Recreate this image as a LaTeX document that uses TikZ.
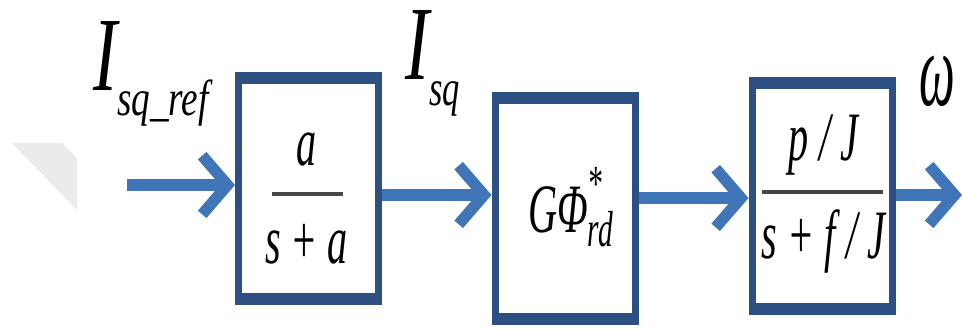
\documentclass[tikz,border=0pt]{standalone}
\usepackage{fontspec}
\setmainfont{Liberation Serif}
\usepackage{graphicx}
\usetikzlibrary{arrows.meta,positioning,calc}
\definecolor{boxblue}{RGB}{44,80,130}
\definecolor{arrblue}{RGB}{64,118,184}
\newcommand{\cond}[2][0.58]{\scalebox{#1}[1]{#2}}
\newcommand{\subsz}{\fontsize{38}{38}\selectfont}

\begin{document}
\begin{tikzpicture}[
    x=0.75pt, y=-0.75pt,
    blk/.style={draw=boxblue, fill=white, line width=5.25pt,
                minimum width=105pt, minimum height=169.5pt, inner sep=0pt},
    arr/.style={draw=arrblue, line width=8.5pt,
                -{Straight Barb[length=19pt,width=44pt]}},
    sig/.style={font=\fontsize{79}{79}\selectfont\itshape,
                inner sep=0pt, anchor=base west},
    tf/.style={font=\fontsize{52}{52}\selectfont\itshape,
               inner sep=0pt, anchor=base},
    fbar/.style={line width=3pt, black!72}
  ]
  \useasboundingbox (0,0) rectangle (962,329);
  % faint corner shape on the left
  \fill[black!8] (12,143) -- (62,143) -- (77,158) -- (77,210) -- cycle;

  %% --- Blocks ---
  \node[blk] (b1) at (308.5,188.5) {};
  \node[blk] (b2) at (565,208.5) {};
  \node[blk, minimum height=173pt] (b3) at (822,196) {};
  % heavier top and bottom edges
  \foreach \b in {b1,b2,b3} {
    \fill[boxblue] (\b.north west) rectangle ([yshift=-9pt]\b.north east);
    \fill[boxblue] (\b.south west) rectangle ([yshift=9pt]\b.south east);
  }

  %% --- Block contents ---
  \node[tf] (n1) at (306.5,165) {\cond{a}};
  \node[tf] (d1) at (306.5,263) {\cond{s + a}};
  \draw[fbar] (272,194) -- (343,194);

  \node[tf, anchor=base west] (gphi) at (528,232)
       {\cond{GΦ\rlap{\raisebox{24pt}{\subsz *}}\raisebox{-10.5pt}{\subsz rd}}};

  \node[tf] (n3) at (823.5,160) {\cond{p / J}};
  \node[tf] (d3) at (823.5,258) {\cond{s + f / J}};
  \draw[fbar] (762,192) -- (883,192);

  %% --- Signals ---
  \node[sig] (isqref) at (93,90) {\cond[0.68]{I\raisebox{-19pt}{\subsz\cond[1.08]{sq\_ref}}}};
  \node[sig] (isq) at (405,79) {\cond[0.68]{I\raisebox{-19.5pt}{\subsz sq}}};
  \node[sig] (omega) at (919,105) {\cond[0.48]{ω}};

  %% --- Connections ---
  \coordinate (in) at (127,185);
  \coordinate (out) at (962,195);
  \draw[arr] (in) -- (in -| b1.west);
  \draw[arr] (b1.east |- 0,195) -- (b2.west |- 0,195);
  \draw[arr] (b2.east |- 0,198) -- (b3.west |- 0,198);
  \draw[arr] (b3.east |- out) -- (out);
\end{tikzpicture}
\end{document}
